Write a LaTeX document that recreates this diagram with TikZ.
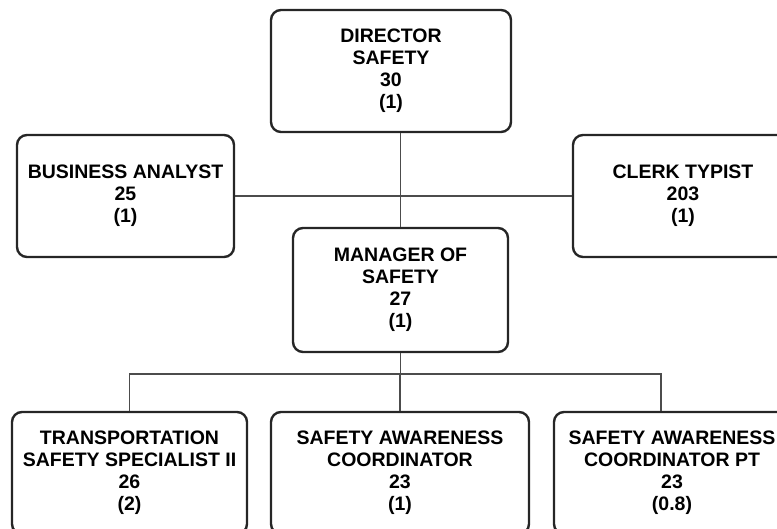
\documentclass[tikz,border=0pt]{standalone}
\usepackage{fontspec}
\setmainfont{Liberation Sans}
\usetikzlibrary{calc}
\begin{document}
\begin{tikzpicture}[x=1pt,y=-1pt,
  box/.style={draw=black!85, line width=2.4pt, rounded corners=10pt, align=center,
    font=\bfseries\fontsize{19.5}{22}\selectfont, inner sep=0pt},
  conn/.style={draw=black!70, line width=1.7pt}]
\useasboundingbox (0,0) rectangle (777,529);
\node[box, minimum width=240pt, minimum height=122pt] (dir) at (391,71) {DIRECTOR\\SAFETY\\30\\(1)};
\node[box, minimum width=217pt, minimum height=122pt] (ba) at (125.5,196) {BUSINESS ANALYST\\25\\(1)};
\node[box, minimum width=220pt, minimum height=122pt] (clerk) at (683,196) {CLERK TYPIST\\203\\(1)};
\node[box, minimum width=215pt, minimum height=124pt] (mgr) at (400.5,290) {MANAGER OF\\SAFETY\\27\\(1)};
\node[box, minimum width=235pt, minimum height=122pt] (tss) at (129.5,473) {TRANSPORTATION\\SAFETY SPECIALIST II\\26\\(2)};
\node[box, minimum width=258pt, minimum height=122pt] (sac) at (400,473) {SAFETY AWARENESS\\COORDINATOR\\23\\(1)};
\node[box, minimum width=236pt, minimum height=122pt] (sacpt) at (672,473) {SAFETY AWARENESS\\COORDINATOR PT\\23\\(0.8)};
\coordinate (bar) at (0,374);
\draw[conn] (ba.east) -- (clerk.west);
\draw[conn] (mgr.north) -- (mgr.north |- dir.south);
\draw[conn] (mgr.south) -- (mgr.south |- bar);
\draw[conn] (tss.north) -- (tss.north |- bar) -- ($(sacpt.north |- bar)+(-11,0)$) -- ($(sacpt.north)+(-11,0)$);
\draw[conn] (sac.north) -- (sac.north |- bar);
\end{tikzpicture}
\end{document}
